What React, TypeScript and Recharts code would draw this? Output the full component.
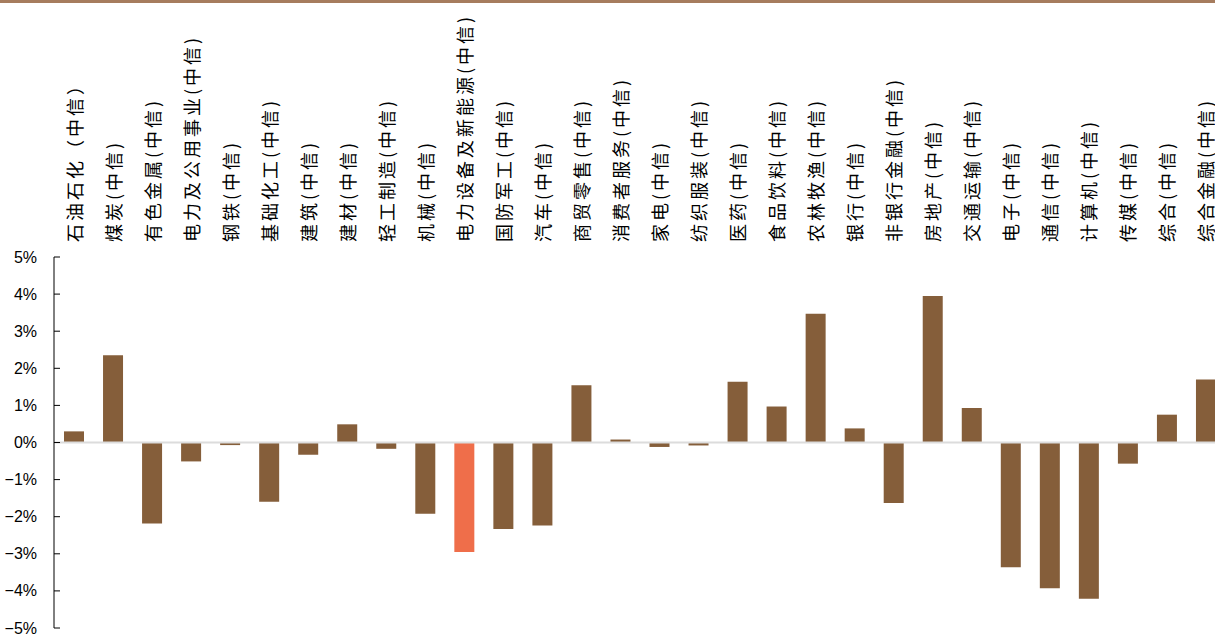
import React from 'react';
import { BarChart, Bar, XAxis, YAxis, Cell, ReferenceLine } from 'recharts';

// Industry names (CITIC level-1) and weekly change in %
const industries = [
  '石油石化（中信）', '煤炭(中信)', '有色金属(中信)', '电力及公用事业(中信)', '钢铁(中信)',
  '基础化工(中信)', '建筑(中信)', '建材(中信)', '轻工制造(中信)', '机械(中信)',
  '电力设备及新能源(中信)', '国防军工(中信)', '汽车(中信)', '商贸零售(中信)', '消费者服务(中信)',
  '家电(中信)', '纺织服装(中信)', '医药(中信)', '食品饮料(中信)', '农林牧渔(中信)',
  '银行(中信)', '非银行金融(中信)', '房地产(中信)', '交通运输(中信)', '电子(中信)',
  '通信(中信)', '计算机(中信)', '传媒(中信)', '综合(中信)', '综合金融(中信)',
];

const changes = [
  0.3, 2.35, -2.18, -0.51, -0.07,
  -1.6, -0.33, 0.49, -0.17, -1.92,
  -2.95, -2.33, -2.24, 1.54, 0.08,
  -0.12, -0.08, 1.64, 0.97, 3.47,
  0.38, -1.63, 3.95, 0.93, -3.36,
  -3.93, -4.21, -0.57, 0.75, 1.7,
];

const yTicks = [-5, -4, -3, -2, -1, 0, 1, 2, 3, 4, 5];

const highlighted = '电力设备及新能源(中信)';

const BROWN = '#855E3A';
const ORANGE = '#EF6E4A';

// category labels sit above the plot, text starts at this y and runs upward
const LABEL_Y = 242;

const data = industries.map((name, i) => ({ name, value: changes[i] }));

const fmtPct = (v: number) => `${v < 0 ? '\u2212' : ''}${Math.abs(v)}%`;

// x axis lives at the bottom (invisible); its ticks are drawn rotated above the plot
const CategoryTick = (props: any) => {
  const { x, payload } = props;
  return (
    <text
      transform={`translate(${x},${LABEL_Y}) rotate(-90)`}
      textAnchor="start"
      dominantBaseline="central"
      fontSize={18}
      letterSpacing={3}
      fontFamily='"Noto Sans CJK SC", sans-serif'
      fill="#000"
    >
      {payload.value}
    </text>
  );
};

const ValueTick = (props: any) => {
  const { x, y, payload } = props;
  return (
    <g>
      <line x1={x} y1={y} x2={x + 6} y2={y} stroke="#000" strokeWidth={1} />
      <text
        x={x - 17}
        y={y}
        textAnchor="end"
        dominantBaseline="central"
        fontSize={16}
        fontFamily='"Liberation Sans", Arial, sans-serif'
        fill="#000"
      >
        {fmtPct(payload.value)}
      </text>
    </g>
  );
};

export default function App() {
  return (
    <div
      style={{
        position: 'absolute',
        left: 0,
        top: 0,
        width: 1215,
        height: 635,
        overflow: 'hidden',
        background: '#fff',
      }}
    >
      <BarChart
        width={1230}
        height={635}
        data={data}
        margin={{ top: 257, right: 5, bottom: 0, left: 0 }}
      >
        <XAxis
          dataKey="name"
          height={7}
          interval={0}
          axisLine={false}
          tickLine={false}
          tick={<CategoryTick />}
        />
        <YAxis
          type="number"
          width={54}
          domain={[-5, 5]}
          ticks={yTicks}
          interval={0}
          tickSize={0}
          tickMargin={0}
          tickLine={false}
          axisLine={{ stroke: '#000', strokeWidth: 1 }}
          tick={<ValueTick />}
        />
        <ReferenceLine y={0} stroke="#DCDCDC" strokeWidth={2} />
        <Bar dataKey="value" fill={BROWN} barSize={20} isAnimationActive={false}>
          {data.map((d, i) => (
            <Cell key={`cell-${i}`} fill={d.name === highlighted ? ORANGE : BROWN} />
          ))}
        </Bar>
      </BarChart>
      <div style={{ position: 'absolute', left: 0, top: 0, width: 1215, height: 3, background: '#A67C5E' }} />
    </div>
  );
}
